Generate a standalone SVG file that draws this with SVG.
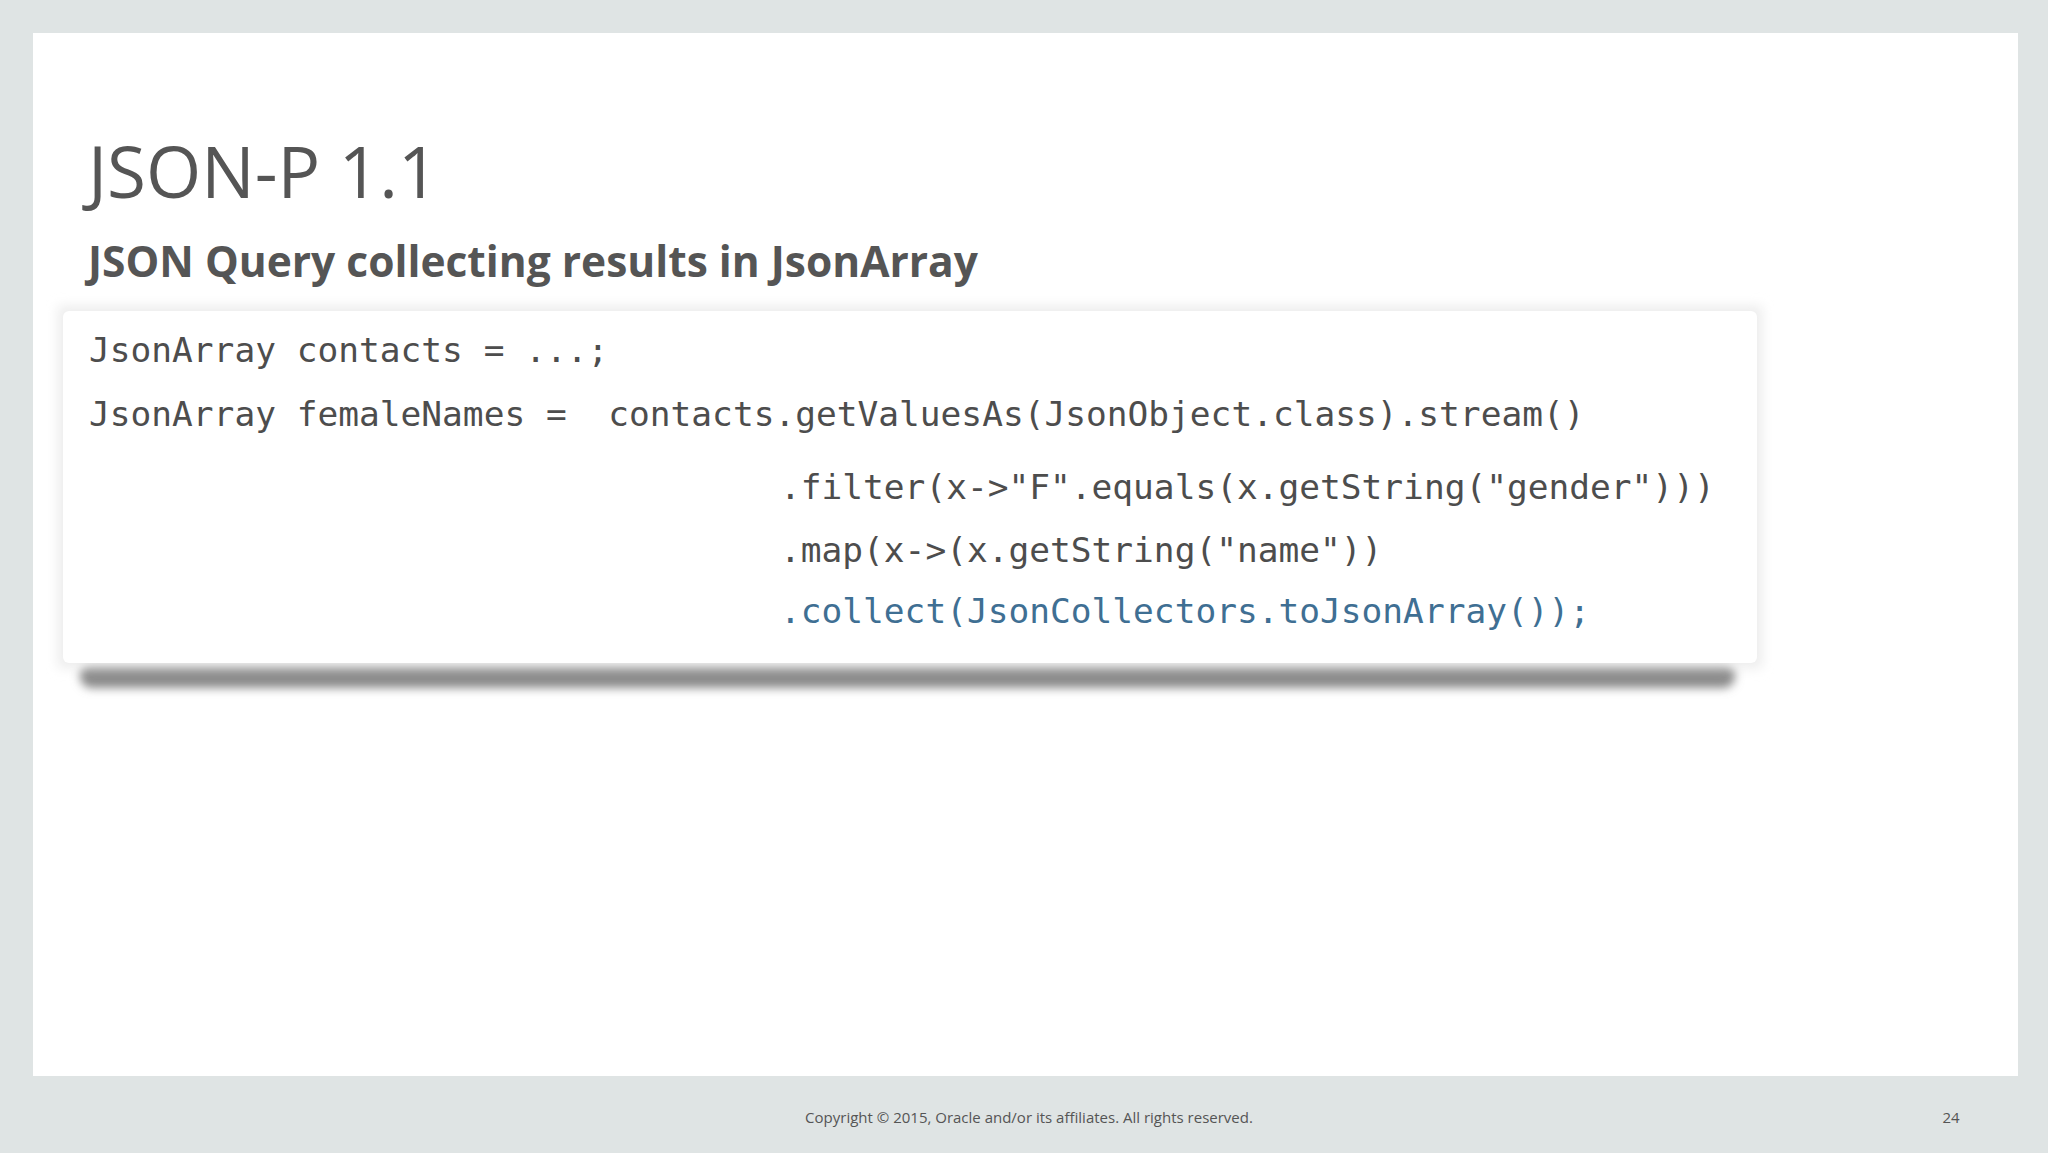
<svg xmlns="http://www.w3.org/2000/svg" width="2048" height="1153" viewBox="0 0 2048 1153">
<defs>
<style>
.code{font-family:"DejaVu Sans Mono","Liberation Mono",monospace;font-size:34.5px;fill:#4d4d4d}
.blue{fill:#3f6f93}
</style>
<filter id="blur" x="-5%" y="-50%" width="110%" height="200%"><feGaussianBlur stdDeviation="5"/></filter>
<filter id="soft" x="-5%" y="-10%" width="110%" height="120%"><feGaussianBlur stdDeviation="6"/></filter>
</defs>
<rect width="2048" height="1153" fill="#dfe4e4"/>
<rect x="33" y="33" width="1985" height="1043" fill="#ffffff"/>
<text x="88" y="198" font-family="Open Sans, Liberation Sans, sans-serif" font-size="71" fill="#555">JSON-P 1.1</text>
<text x="88" y="277" font-family="Open Sans, Liberation Sans, sans-serif" font-size="42.5" font-weight="bold" fill="#555">JSON Query collecting results in JsonArray</text>
<g id="codebox">
<rect x="80" y="662" width="1655" height="26" rx="12" fill="#8a8a8a" filter="url(#blur)"/>
<rect x="58" y="306" width="1704" height="362" fill="#ececec" filter="url(#soft)"/>
<rect x="63" y="311" width="1694" height="352" rx="6" fill="#ffffff"/>
<text class="code" x="89" y="362">JsonArray contacts = ...;</text>
<text class="code" x="89" y="426" xml:space="preserve">JsonArray femaleNames =  contacts.getValuesAs(JsonObject.class).stream()</text>
<text class="code" x="780" y="499">.filter(x-&gt;"F".equals(x.getString("gender")))</text>
<text class="code" x="780" y="562">.map(x-&gt;(x.getString("name"))</text>
<text class="code blue" x="780" y="623">.collect(JsonCollectors.toJsonArray());</text>
</g>
<text x="1029" y="1123" text-anchor="middle" font-family="Open Sans, Liberation Sans, sans-serif" font-size="15" fill="#555">Copyright © 2015, Oracle and/or its affiliates. All rights reserved.</text>
<text x="1951" y="1123" text-anchor="middle" font-family="Open Sans, Liberation Sans, sans-serif" font-size="15" fill="#555">24</text>
</svg>
